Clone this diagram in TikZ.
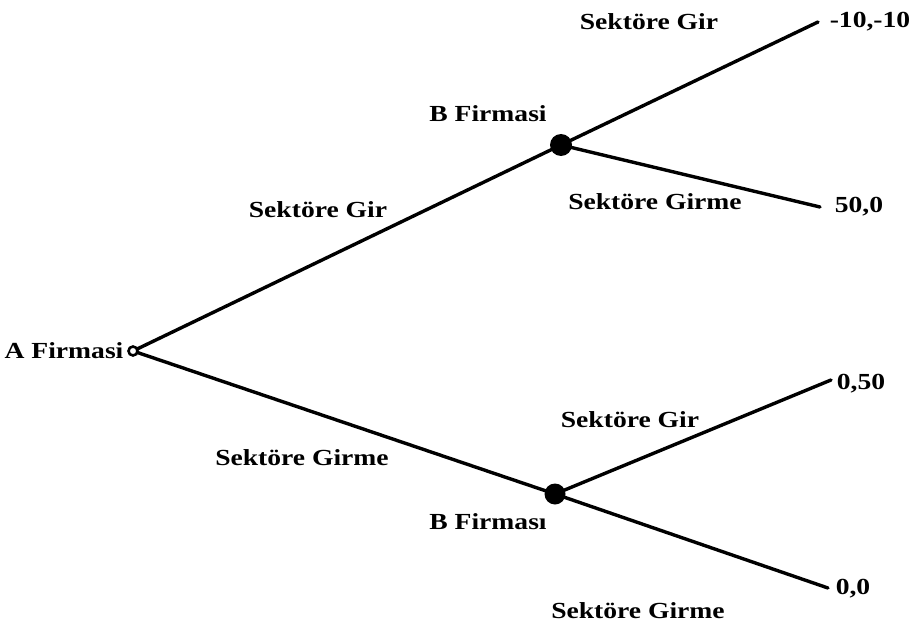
\documentclass[tikz,border=0pt]{standalone}
\usepackage{fontspec}
\setmainfont{Liberation Serif}
\newcommand{\wlbl}[1]{\scalebox{1.2}[1]{\bfseries #1}}
\begin{document}
\begin{tikzpicture}[x=1pt,y=-1pt,
  lbl/.style={inner sep=0pt,font=\fontsize{23}{25}\selectfont},
  branch/.style={line width=3.4pt,line cap=round},
  dec/.style={circle,fill=black,inner sep=0pt,minimum size=22pt},
  root/.style={circle,draw=black,fill=white,line width=2.6pt,inner sep=0pt,minimum size=9pt}]
\useasboundingbox (0,0) rectangle (910,623);
\coordinate (A) at (133,351);
\coordinate (B1) at (561,145);
\coordinate (B2) at (555,494);
\coordinate (L1) at (818,22);
\coordinate (L2) at (820,207);
\coordinate (L3) at (831,380);
\coordinate (L4) at (828,588);
\draw[branch] (A) -- (B1);
\draw[branch] (A) -- (B2);
\draw[branch] (B1) -- (L1);
\draw[branch] (B1) -- (L2);
\draw[branch] (B2) -- (L3);
\draw[branch] (B2) -- (L4);
\node[root] (An) at (A) {};
\node[dec] (B1n) at (B1) {};
\node[dec,minimum size=21pt] (B2n) at (B2) {};
\node[lbl] (tA) at (64,351) {\wlbl{A Firmasi}};
\node[lbl] (tB1) at (488,114) {\wlbl{B Firmasi}};
\node[lbl] (tB2) at (488,522) {\wlbl{B Firması}};
\node[lbl] (s1) at (649,22) {\wlbl{Sektöre Gir}};
\node[lbl] (s2) at (655,202) {\wlbl{Sektöre Girme}};
\node[lbl] (s3) at (318,210) {\wlbl{Sektöre Gir}};
\node[lbl] (s4) at (302,458) {\wlbl{Sektöre Girme}};
\node[lbl] (s5) at (630,420) {\wlbl{Sektöre Gir}};
\node[lbl] (s6) at (638,611) {\wlbl{Sektöre Girme}};
\node[lbl] (p1) at (870,22) {\wlbl{-10,-10}};
\node[lbl] (p2) at (859,207) {\wlbl{50,0}};
\node[lbl] (p3) at (861,384) {\wlbl{0,50}};
\node[lbl] (p4) at (853,589) {\wlbl{0,0}};
\end{tikzpicture}
\end{document}
